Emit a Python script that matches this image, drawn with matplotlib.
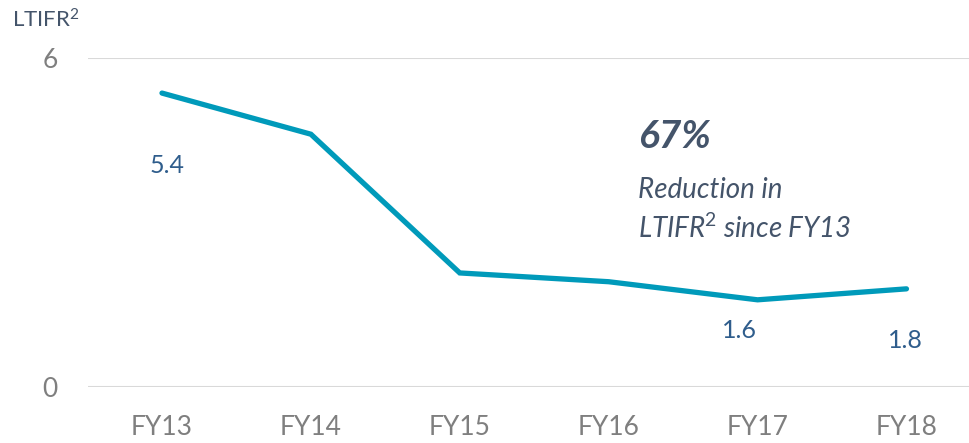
import matplotlib
matplotlib.use("Agg")
import matplotlib.pyplot as plt

years = ["FY13", "FY14", "FY15", "FY16", "FY17", "FY18"]
ltifr = [5.36, 4.61, 2.08, 1.92, 1.59, 1.79]
# only some points carry a label in the original
labelled = {0: "5.4", 4: "1.6", 5: "1.8"}
label_offsets = {0: (4, -52), 4: (-13, -22), 5: (-1, -37)}

LINE = "#009ABA"
VALUE = "#2F5D8C"
TICK = "#7F7F7F"
NOTE = "#44546A"
GRID = "#D9D9D9"

plt.rcParams['font.family'] = ["Lato", "DejaVu Sans"]
plt.rcParams['mathtext.fontset'] = "custom"
plt.rcParams['mathtext.rm'] = "Lato"
plt.rcParams['mathtext.it'] = "Lato:italic"
plt.rcParams['mathtext.bf'] = "Lato:bold"

fig = plt.figure(figsize=(9.69, 4.43), dpi=100)
ax = fig.add_axes([0.0908, 0.1264, 0.9092, 0.7427])

x = list(range(len(years)))
ax.plot(x, ltifr, color=LINE, lw=3.8, solid_capstyle="round",
        solid_joinstyle="miter", zorder=3)

for i, txt in labelled.items():
    ax.annotate(txt, (x[i], ltifr[i]), xytext=label_offsets[i],
                textcoords="offset points", ha="center", va="center",
                fontsize=18, color=VALUE)

ax.set_ylim(0, 6)
ax.set_xlim(-0.497, 5.42)
ax.set_yticks([0, 6])
ax.set_xticks(x)
ax.set_xticklabels(years)
ax.tick_params(axis="both", length=0, labelsize=19, colors=TICK)
ax.tick_params(axis="y", pad=22)
ax.tick_params(axis="x", pad=20)
ax.grid(axis="y", color=GRID, lw=1.5)
ax.set_axisbelow(True)
for s in ax.spines.values():
    s.set_visible(False)

fig.text(12 / 969, 1 - 20 / 443, r"LTIFR$\mathregular{^2}$", fontsize=16,
         color=NOTE, ha="left", va="center")

fig.text(638 / 969, 1 - 137 / 443, "67%", fontsize=28, color=NOTE,
         fontweight="bold", fontstyle="italic", ha="left", va="center")
fig.text(638 / 969, 1 - 190 / 443, "Reduction in", fontsize=20, color=NOTE,
         fontstyle="italic", ha="left", va="center")
fig.text(638 / 969, 1 - 228 / 443, r"LTIFR$\mathit{^2}$ since FY13",
         fontsize=20, color=NOTE, fontstyle="italic", ha="left",
         va="center")

fig.savefig("out.png", dpi=100)
